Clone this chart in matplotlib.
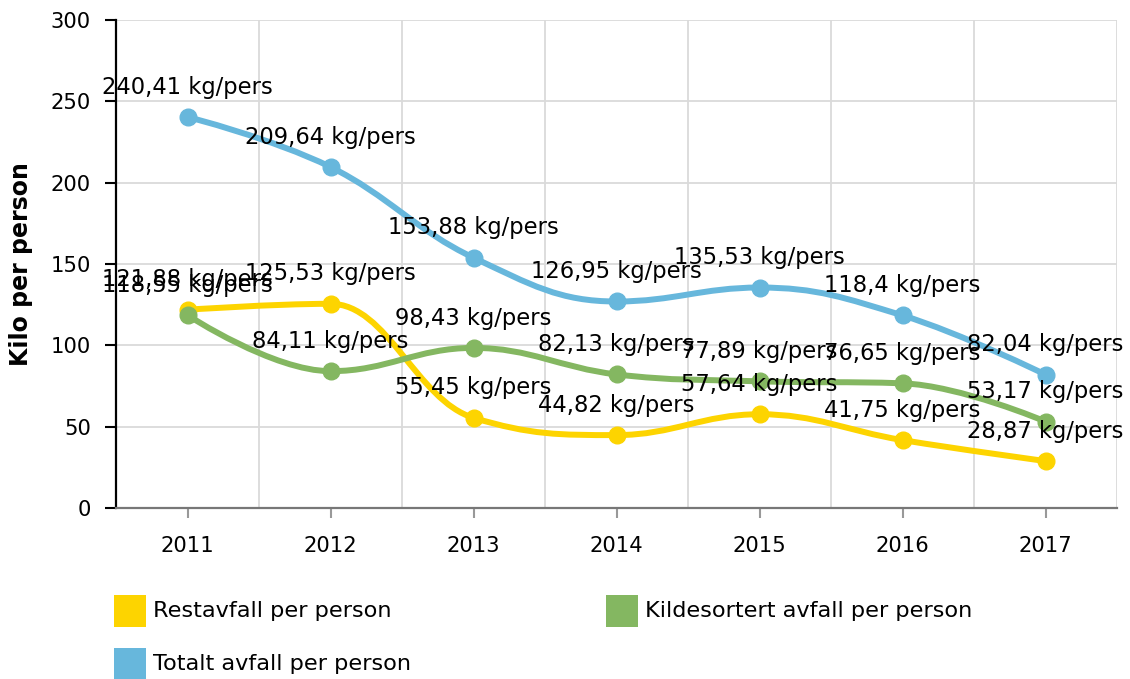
import numpy as np
import matplotlib
matplotlib.use("Agg")
import matplotlib.pyplot as plt
from matplotlib.path import Path
import matplotlib.patches as patches

years = ["2011", "2012", "2013", "2014", "2015", "2016", "2017"]
restavfall = [121.88, 125.53, 55.45, 44.82, 57.64, 41.75, 28.87]
kildesortert = [118.55, 84.11, 98.43, 82.13, 77.89, 76.65, 53.17]
totalt = [240.41, 209.64, 153.88, 126.95, 135.53, 118.4, 82.04]

series_names = ["Restavfall per person", "Kildesortert avfall per person", "Totalt avfall per person"]
colors = ["#FDD400", "#84B761", "#67B7DC"]

W, H = 1130, 679


def spline_path(xs, ys, smoothing=1.5):
    # bezier kontrollpunkter (glatt linje)
    n = len(xs)
    left = [(xs[i], ys[i]) for i in range(n)]
    right = [(xs[i], ys[i]) for i in range(n)]
    d = smoothing + 1
    for i in range(1, n - 1):
        x, y = xs[i], ys[i]
        lx, ly = xs[i - 1], ys[i - 1]
        nx, ny = xs[i + 1], ys[i + 1]
        lcx = (smoothing * x + lx) / d
        lcy = (smoothing * y + ly) / d
        rcx = (smoothing * x + nx) / d
        rcy = (smoothing * y + ny) / d
        corr = ((rcy - lcy) * (rcx - x)) / (rcx - lcx) + y - rcy
        lcy += corr
        rcy += corr
        if lcy > ly and lcy > y:
            lcy = max(ly, y)
            rcy = 2 * y - lcy
        elif lcy < ly and lcy < y:
            lcy = min(ly, y)
            rcy = 2 * y - lcy
        if rcy > ny and rcy > y:
            rcy = max(ny, y)
            lcy = 2 * y - rcy
        elif rcy < ny and rcy < y:
            rcy = min(ny, y)
            lcy = 2 * y - rcy
        left[i] = (lcx, lcy)
        right[i] = (rcx, rcy)
    verts = [(xs[0], ys[0])]
    codes = [Path.MOVETO]
    for i in range(1, n):
        verts += [right[i - 1], left[i], (xs[i], ys[i])]
        codes += [Path.CURVE4] * 3
    return Path(verts, codes)


fig = plt.figure(figsize=(W / 100, H / 100), dpi=100)
ax = fig.add_axes([116 / W, 1 - 508 / H, (1117 - 116) / W, (508 - 20) / H])

x = np.arange(len(years))
all_series = [restavfall, kildesortert, totalt]

for vals, c in zip(all_series, colors):
    p = spline_path(list(x), vals)
    ax.add_patch(patches.PathPatch(p, facecolor="none", edgecolor=c, lw=4.3,
                                   capstyle="round", joinstyle="round", zorder=3))
for vals, c in zip(all_series, colors):
    ax.plot(x, vals, "o", color=c, markersize=12, zorder=4, clip_on=False)

for vals in all_series:
    for xi, v in zip(x, vals):
        lbl = f"{v:.2f}".rstrip("0").rstrip(".").replace(".", ",") + " kg/pers"
        ax.annotate(lbl, (xi, v), xytext=(0, 21.5), textcoords="offset points",
                    ha="center", va="center", fontsize=16.3, color="#000000", zorder=6)

ax.set_xlim(-0.5, len(years) - 0.5)
ax.set_ylim(0, 300)
ax.set_yticks(range(0, 301, 50))
ax.set_xticks(x)
ax.set_xticklabels(years)

ax.grid(False)
for yv in range(50, 301, 50):
    ax.axhline(yv, color="#DADADA", lw=1.3, zorder=0)
for xv in np.arange(0.5, len(years), 1):
    ax.axvline(xv, color="#DADADA", lw=1.3, zorder=0)

ax.tick_params(axis="x", length=7, width=1.5, color="#999999",
               labelsize=15.2, pad=13.5, labelcolor="#000000")
ax.tick_params(axis="y", length=8, width=1.5, color="#000000", labelsize=15.2,
               pad=10, labelcolor="#000000")

ax.spines["top"].set_visible(False)
ax.spines["right"].set_visible(False)
ax.spines["left"].set_color("#000000")
ax.spines["left"].set_linewidth(1.6)
ax.spines["bottom"].set_color("#777777")
ax.spines["bottom"].set_linewidth(1.6)

ax.set_ylabel("Kilo per person", fontsize=17, fontweight="bold")
ax.yaxis.set_label_coords((33 - 116) / (1117 - 116), 0.5)

# legende
leg_pos = [(114, 595), (606, 595), (114, 648)]
for (lx, ly), name, c in zip(leg_pos, series_names, colors):
    fig.add_artist(patches.Rectangle((lx / W, 1 - (ly + 32) / H), 32 / W, 32 / H,
                                     transform=fig.transFigure, facecolor=c,
                                     edgecolor="none"))
    fig.text((lx + 39) / W, 1 - (ly + 16) / H, name, fontsize=16.1,
             ha="left", va="center", color="#000000")

fig.savefig("out.png", dpi=100)
